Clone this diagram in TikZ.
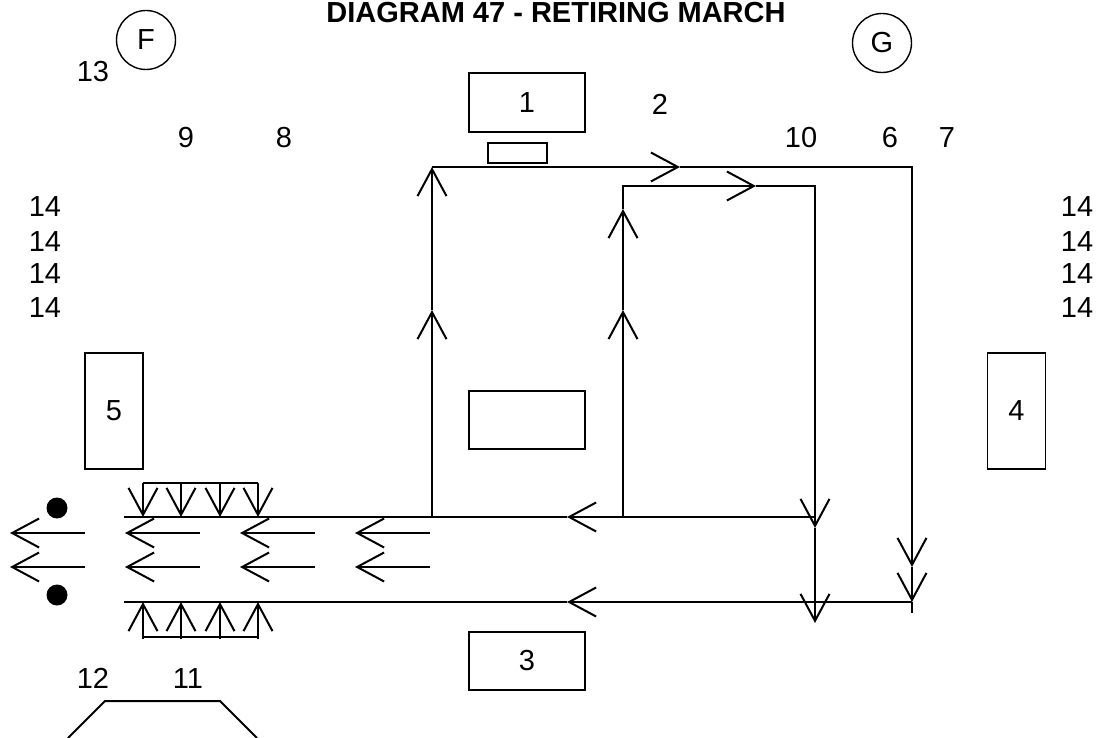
\documentclass[tikz,border=0pt]{standalone}
\usepackage{fontspec}
\setmainfont{Liberation Sans}
\usetikzlibrary{arrows.meta}

\begin{document}
\begin{tikzpicture}[x=0.5pt, y=-0.5pt, line width=1pt,
    >={Straight Barb[length=13.5pt, width=14.5pt]},
    lbl/.style={font=\fontsize{14.5}{17}\selectfont, anchor=base, inner sep=0pt},
    box/.style={draw, line width=0.7pt, inner sep=0pt, font=\fontsize{14.5}{17}\selectfont},
    ring/.style={draw, circle, line width=0.7pt, minimum size=29.5pt, inner sep=0pt, font=\fontsize{14.5}{17}\selectfont},
    dot/.style={circle, fill, minimum size=10.5pt, inner sep=0pt}]

\useasboundingbox (0,0) rectangle (1099,738);
\clip (0,0) rectangle (1099,738);

    % Judul
    \node[lbl, font=\bfseries\fontsize{14.5}{17}\selectfont] (title) at (556,23) {DIAGRAM 47 - RETIRING MARCH};

    % Lingkaran
    \node[ring] (F) at (146,40) {F};
    \node[ring] (G) at (882,43) {G};

    % Nomor posisi
    \node[lbl] (n13) at (93,82) {13};
    \node[lbl] (n9) at (186,148) {9};
    \node[lbl] (n8) at (284,148) {8};
    \node[lbl] (n2) at (660,115) {2};
    \node[lbl] (n10) at (801,148) {10};
    \node[lbl] (n6) at (890,148) {6};
    \node[lbl] (n7) at (947,148) {7};
    \foreach \y [count=\i] in {217,251,284,317} {
        \node[lbl] (w\i) at (45,\y) {14};
        \node[lbl] (e\i) at (1077,\y) {14};
    }
    \node[lbl] (n12) at (93,688) {12};
    \node[lbl] (n11) at (188,688) {11};

    % Kotak
    \node[box, minimum width=58pt, minimum height=29.5pt] (b1) at (527,102.5) {1};
    \node[box, minimum width=29.5pt, minimum height=10pt] (lect) at (517.5,153) {};
    \node[box, minimum width=58pt, minimum height=29pt] (mid) at (527,420) {};
    \node[box, minimum width=58pt, minimum height=29pt] (b3) at (527,661) {3};
    \node[box, minimum width=29pt, minimum height=58pt] (b5) at (114,411) {5};
    \node[box, minimum width=29pt, minimum height=58pt] (b4) at (1016.5,411) {4};

    % Jalur utama
    \coordinate (tl) at (124,517);
    \coordinate (tr) at (815,517);
    \coordinate (bl) at (124,602);
    \coordinate (br) at (912,602);
    \draw[->] (tr) -- (567,517);
    \draw (567,517) -- (tl);
    \draw[->] (br) -- (567,602);
    \draw (567,602) -- (bl);

    % Putaran luar
    \coordinate (o1) at (432,517);
    \coordinate (o2) at (432,167);
    \coordinate (o3) at (912,167);
    \coordinate (o4) at (912,613);
    \draw[->] (o1) -- (432,310);
    \draw[->] (432,310) -- (o2);
    \draw[->] (o2) -- (680,167);
    \draw[->] (680,167) -- (o3) -- (912,567);
    \draw[->] (912,567) -- (br);
    \draw (br) -- (o4);

    % Putaran dalam
    \coordinate (i1) at (623,517);
    \coordinate (i2) at (623,186);
    \coordinate (i3) at (815,186);
    \coordinate (i4) at (815,623);
    \draw[->] (i1) -- (623,310);
    \draw[->] (623,310) -- (623,209);
    \draw[->] (623,209) -- (i2) -- (756,186);
    \draw[->] (756,186) -- (i3) -- (815,528);
    \draw[->] (815,528) -- (i4);

    % Panah keluar
    \foreach \y in {533,567}
        \foreach \x in {85,200,315,430}
            \draw[->] (\x,\y) -- ++(-75,0);

    % Sisir atas dan bawah
    \draw (143,483) -- (258,483);
    \draw (143,637) -- (258,637);
    \foreach \x in {143,181,220,258} {
        \draw[->] (\x,483) -- (\x,517);
        \draw[->] (\x,639) -- (\x,602);
    }

    % Titik
    \node[dot] (d1) at (57,508) {};
    \node[dot] (d2) at (57,595) {};

    % Trapesium
    \draw (68,738) -- (105,701) -- (220,701) -- (257,738);

\end{tikzpicture}
\end{document}
